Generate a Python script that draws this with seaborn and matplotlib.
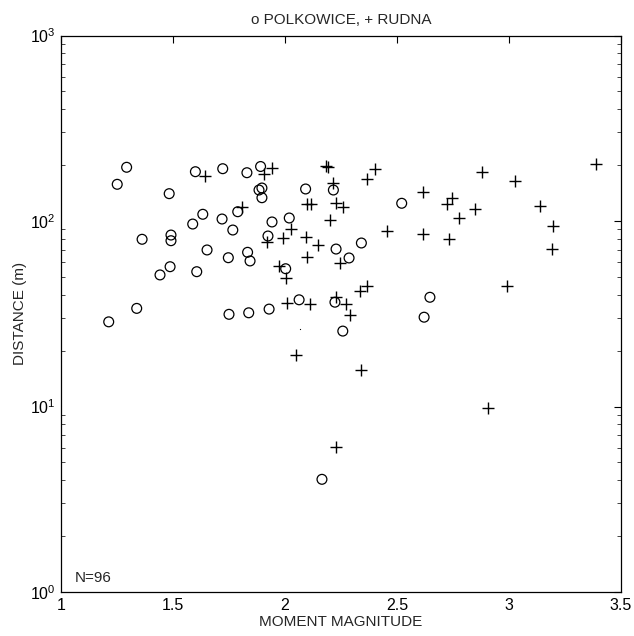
import numpy as np
import pandas as pd
import seaborn as sns
import matplotlib
matplotlib.use("Agg")
import matplotlib.pyplot as plt
from matplotlib.ticker import LogLocator, NullFormatter

# Polkowice (circles)
polk_mag = [1.213, 1.251, 1.293, 1.338, 1.362, 1.442, 1.483, 1.487, 1.491, 1.491,
            1.588, 1.600, 1.606, 1.633, 1.652, 1.719, 1.722, 1.747, 1.750, 1.767,
            1.789, 1.830, 1.833, 1.838, 1.844, 1.891, 1.884, 1.897, 1.897, 1.924,
            1.929, 1.942, 2.019, 2.003, 2.063, 2.092, 2.216, 2.228, 2.286, 2.341,
            2.223, 2.258, 2.165, 2.521, 2.647, 2.621]
polk_dist = [28.6, 157.7, 194.8, 33.8, 79.7, 51.2, 140.4, 56.7, 84.0, 78.3,
             96.3, 184.4, 53.3, 108.7, 69.8, 102.5, 191.4, 63.4, 31.4, 89.4,
             112.2, 182.1, 67.8, 32.0, 60.9, 196.7, 146.9, 150.6, 133.5, 83.0,
             33.5, 98.8, 103.8, 55.3, 37.6, 148.8, 146.9, 70.6, 63.2, 76.1,
             36.5, 25.5, 4.05, 124.6, 38.8, 30.3]

# Rudna (plus signs)
rud_mag = [1.643, 1.908, 1.808, 1.918, 1.942, 2.183, 2.191, 2.400, 2.367, 2.616,
           2.213, 2.100, 2.116, 2.226, 2.258, 2.201, 2.025, 1.992, 2.094, 2.149,
           2.454, 2.616, 2.098, 2.246, 1.975, 2.003, 2.335, 2.367, 2.008, 2.113,
           2.228, 2.271, 2.290, 3.390, 2.878, 3.025, 2.744, 2.725, 2.850, 2.778,
           3.140, 3.196, 3.191, 2.731, 2.991, 2.048, 2.338, 2.229, 2.906]
rud_dist = [174.8, 179.2, 119.5, 76.6, 192.3, 198.7, 194.8, 190.0, 167.8, 143.3,
            159.7, 124.0, 124.0, 125.5, 118.6, 101.3, 90.9, 81.3, 81.7, 74.2,
            88.3, 85.4, 64.2, 59.4, 57.2, 49.5, 42.1, 44.8, 36.0, 35.6,
            38.8, 35.6, 31.1, 202.9, 184.4, 163.7, 133.5, 123.0, 115.7, 104.2,
            120.5, 93.6, 70.4, 79.7, 44.8, 18.9, 15.7, 6.03, 9.8]

# one tiny dot mark
dot_mag = [2.069]
dot_dist = [26.2]

x_ticks = [1, 1.5, 2, 2.5, 3, 3.5]
x_tick_labels = ["1", "1.5", "2", "2.5", "3", "3.5"]
y_ticks = [1, 10, 100, 1000]
y_tick_labels = [r"$10^0$", r"$10^1$", r"$10^2$", r"$10^3$"]

sns.set_style("white")
plt.rcParams['font.family'] = ['Liberation Sans', 'DejaVu Sans']
plt.rcParams['mathtext.fontset'] = 'custom'
plt.rcParams['mathtext.rm'] = 'Liberation Sans'

fig = plt.figure(figsize=(6.34, 6.36), dpi=100)
ax = fig.add_axes([61/634, 44/636, 560/634, 556.5/636])

df_p = pd.DataFrame({"mag": polk_mag, "dist": polk_dist})
df_r = pd.DataFrame({"mag": rud_mag, "dist": rud_dist})
df_d = pd.DataFrame({"mag": dot_mag, "dist": dot_dist})

sns.scatterplot(data=df_p, x="mag", y="dist", ax=ax, marker="o", s=50,
                facecolors="none", edgecolor="black", linewidth=0.9, legend=False)
sns.scatterplot(data=df_r, x="mag", y="dist", ax=ax, marker="+", s=70,
                color="black", linewidth=1.0, legend=False)
sns.scatterplot(data=df_d, x="mag", y="dist", ax=ax, marker=".", s=3,
                color="black", linewidth=0, legend=False)

ax.set_yscale("log")
ax.set_xlim(1, 3.5)
ax.set_ylim(1, 1000)
ax.set_xticks(x_ticks)
ax.set_xticklabels(x_tick_labels)
ax.set_yticks(y_ticks)
ax.set_yticklabels(y_tick_labels)
ax.yaxis.set_minor_locator(LogLocator(base=10, subs=np.arange(2, 10)))
ax.yaxis.set_minor_formatter(NullFormatter())

ax.tick_params(axis="both", which="major", direction="in", length=5, width=0.8,
               top=True, right=True, labelsize=11.5, colors="black", pad=4)
ax.tick_params(axis="y", which="minor", direction="in", length=3, width=0.6,
               left=True, right=True)
for sp in ax.spines.values():
    sp.set_visible(True)
    sp.set_color("black")
    sp.set_linewidth(0.9)

ax.set_xlabel("MOMENT MAGNITUDE", fontsize=11, labelpad=2)
ax.set_ylabel("DISTANCE (m)", fontsize=11, labelpad=2)
ax.set_title("o POLKOWICE, + RUDNA", fontsize=11, pad=8)
ax.text(0.025, 0.012, "N=96", transform=ax.transAxes, fontsize=11,
        ha="left", va="bottom")

fig.savefig("out.png", dpi=100)
